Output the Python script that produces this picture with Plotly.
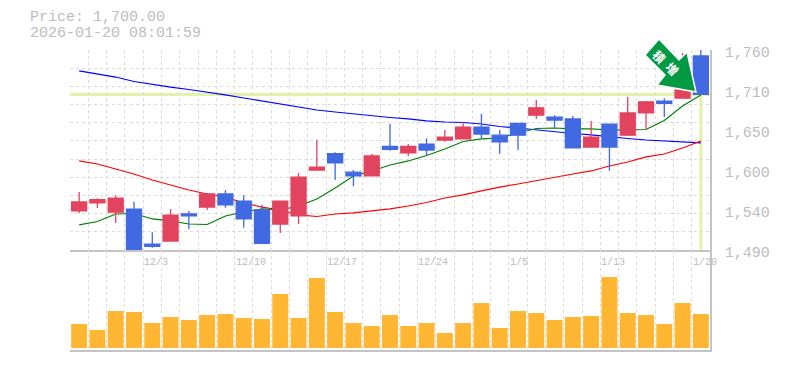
import plotly.graph_objects as go

dates = ["11/27","11/28","12/1","12/2","12/3","12/4","12/5","12/8","12/9","12/10","12/11","12/12",
         "12/15","12/16","12/17","12/18","12/19","12/22","12/23","12/24","12/25","12/26","12/29","12/30",
         "1/5","1/6","1/7","1/8","1/9","1/13","1/14","1/15","1/16","1/19","1/20"]
opens = [1542.7,1553.5,1541,1545,1498,1502,1538.6,1548,1565.6,1556,1544,1525,1536,1598,1620,1595,1590,1630,1621,1633,
         1638.5,1640,1656,1645,1661,1672,1669.5,1667,1629,1660,1645,1675,1691,1695,1752]
closes = [1554.8,1558,1560,1491,1495,1537,1536,1565.6,1551,1532,1499,1556,1588.5,1602,1607.5,1590,1617,1626,1630,1625,
          1642.5,1656,1646.6,1636,1645,1682,1665.5,1628,1642.5,1629,1675,1690,1688,1706,1700]
highs = [1568.3,1560,1564,1555,1514,1545.5,1542.7,1567,1571,1564,1551,1556,1594,1638.5,1622,1598,1619.6,1660,1633,1641,
         1652,1663,1673.6,1652,1661,1692.5,1672,1671,1664,1660,1696.5,1691,1695,1756,1760]
lows = [1540,1546.7,1526.5,1491,1493,1502,1518,1544,1547,1520,1499,1513,1525,1597,1584.5,1576,1590,1624,1617,1617,
        1636,1640,1641,1620,1625,1667,1655,1628,1629,1597,1645,1653,1669.5,1695,1700]
ma_short = [1523.8,1528.5,1538.6,1539.3,1531.9,1529.2,1525.1,1524.4,1535.9,1541.3,1545.4,1544,1549.4,1558.9,1573.7,
            1589.9,1596.7,1604.8,1610.2,1617.6,1626.4,1636.5,1639.9,1641.2,1648,1654,1654.7,1653.4,1653.4,1652,1652,
            1652.7,1664.8,1684.4,1699.3]
ma_mid = [1610.2,1606.1,1599.4,1592.6,1584.5,1577.8,1571,1565.6,1561.6,1553.5,1548,1544,1537.3,1535.2,1538.6,1540,
          1542.7,1545.4,1549.4,1554.1,1560.2,1564.3,1569.7,1575,1579.1,1583.8,1588.6,1592.6,1596.7,1603.4,1608.8,
          1615.6,1619.6,1627.7,1637.2]
ma_long = [1731.7,1727.6,1723.5,1717.5,1713.4,1710,1706.7,1703.3,1699.3,1695.2,1691.2,1686.4,1682.4,1679,1676.3,1673.6,
           1670.9,1668.9,1666.9,1664.2,1662.8,1662.1,1660.1,1656.7,1654.7,1652,1650,1647.3,1645.3,1642.6,1640.5,1638.5,
           1637.2,1636.5,1634.5]
volumes = [24,18,37,36,25,31,28,33,34,30,29,54,30,70,36,25,22,33,22,25,15,25,45,20,37,35,28,31,32,71,35,33,24,45,34]
price_ticks = [1760,1706,1652,1598,1544,1490]
price_labels = ["1,760","1,710","1,650","1,600","1,540","1,490"]
date_labels = ["12/3","12/10","12/17","12/24","1/5","1/13","1/20"]
last_price = 1700

GREY = "#bdbdbd"
GRID = "#dcdcdc"
MONO = "Liberation Mono"
UP = "#E2435F"
DOWN = "#4169E1"
n = len(dates)
xr = [-0.5, n - 0.5]

fig = go.Figure()
for vals, col in ((ma_long, "#0000ff"), (ma_mid, "#ff0000"), (ma_short, "#008000")):
    fig.add_trace(go.Scatter(x=dates, y=vals, mode="lines", line=dict(color=col, width=1.2),
                             xaxis="x", yaxis="y", showlegend=False))
fig.add_trace(go.Candlestick(x=dates, open=opens, high=highs, low=lows, close=closes,
                             increasing=dict(line=dict(color=UP, width=1.3), fillcolor=UP),
                             decreasing=dict(line=dict(color=DOWN, width=1.3), fillcolor=DOWN),
                             whiskerwidth=0, xaxis="x", yaxis="y2", showlegend=False))
fig.add_trace(go.Bar(x=dates, y=volumes, marker=dict(color="#FFB733", line_width=0),
                     xaxis="x2", yaxis="y3", showlegend=False))

common_x = dict(type="category", categoryorder="array", categoryarray=dates, range=xr, tickson="boundaries",
                showgrid=True, gridcolor=GRID, griddash="3px,3px", gridwidth=1, ticks="", showticklabels=False,
                showline=True, linecolor="#c4c4c4", linewidth=1.5, zeroline=False)
plo, phi = min(price_ticks), max(price_ticks)
fig.update_layout(
    width=777, height=362, paper_bgcolor="white", plot_bgcolor="white",
    margin=dict(l=62, r=75, t=42, b=20, autoexpand=False), autosize=False, boxgap=0.18, boxgroupgap=0, bargap=0.125,
    xaxis=dict(domain=[0, 1], anchor="y", rangeslider=dict(visible=False), **common_x),
    xaxis2=dict(domain=[0, 1], anchor="y3", **common_x),
    yaxis=dict(domain=[1/3, 1], range=[plo, phi], tick0=plo, dtick=(phi - plo) / 11, showgrid=True,
               gridcolor=GRID, griddash="3px,3px", showticklabels=False, zeroline=False, ticks=""),
    yaxis2=dict(domain=[1/3, 1], overlaying="y", side="right", anchor="x", range=[plo, phi], showgrid=False,
                tickmode="array", tickvals=price_ticks, ticktext=price_labels, ticks="", ticklabelstandoff=10,
                ticklabelshift=2, tickfont=dict(family=MONO, size=15, color=GREY), showline=True,
                linecolor="#c4c4c4", linewidth=1.5, zeroline=False),
    yaxis3=dict(domain=[0, 1/3], range=[-2, 98], anchor="x2", side="right", showgrid=False, showticklabels=False,
                ticks="", showline=True, linecolor="#c4c4c4", linewidth=1.5, zeroline=False),
    font=dict(family=MONO, color=GREY),
)
PALE = "#E3F2A9"
fig.add_shape(type="line", xref="x domain", yref="y", x0=0, x1=1, y0=last_price, y1=last_price,
              line=dict(color=PALE, width=3), layer="below")
fig.add_shape(type="line", xref="x", yref="y domain", x0=n - 1, x1=n - 1, y0=0, y1=(last_price - plo) / (phi - plo),
              line=dict(color=PALE, width=3), layer="below")
# badge arrow (page pixels relative to the plot area at 70,50 sized 640x300)
pts = [(659,39),(645,55),(665,75),(657,85),(696,92),(687,52),(679,60)]
path = "M " + " L ".join(f"{(x-70)/640:.5f},{1-(y-50)/300:.5f}" for x, y in pts) + " Z"
fig.add_shape(type="path", xref="paper", yref="paper", path=path, fillcolor="#009944",
              line=dict(color="white", width=1.5), layer="above")
for ch, bx, by in (("積", 660, 56), ("増", 673, 68)):
    fig.add_annotation(xref="paper", yref="paper", x=(bx-70)/640, y=1-(by-50)/300, text=f"<b>{ch}</b>", textangle=45,
                       showarrow=False, xanchor="center", yanchor="middle",
                       font=dict(family="Noto Sans CJK JP", size=12, color="white"))
for lab in date_labels:
    i = dates.index(lab)
    fig.add_annotation(xref="x2", yref="paper", x=i - 0.5, y=1-(262-50)/300, text=lab, showarrow=False,
                       xanchor="left", yanchor="middle", xshift=-1, font=dict(family=MONO, size=10, color=GREY))
fig.add_annotation(xref="paper", yref="paper", x=(30-70)/640, y=1-(17.5-50)/300, text=f"Price: {last_price:,.2f}",
                   showarrow=False, xanchor="left", yanchor="middle", xshift=-2, height=15,
                   font=dict(family=MONO, size=15, color=GREY))
fig.add_annotation(xref="paper", yref="paper", x=(30-70)/640, y=1-(33-50)/300, text="2026-01-20 08:01:59",
                   showarrow=False, xanchor="left", yanchor="middle", xshift=-2, height=15,
                   font=dict(family=MONO, size=15, color=GREY))
fig.write_html("out.html")
